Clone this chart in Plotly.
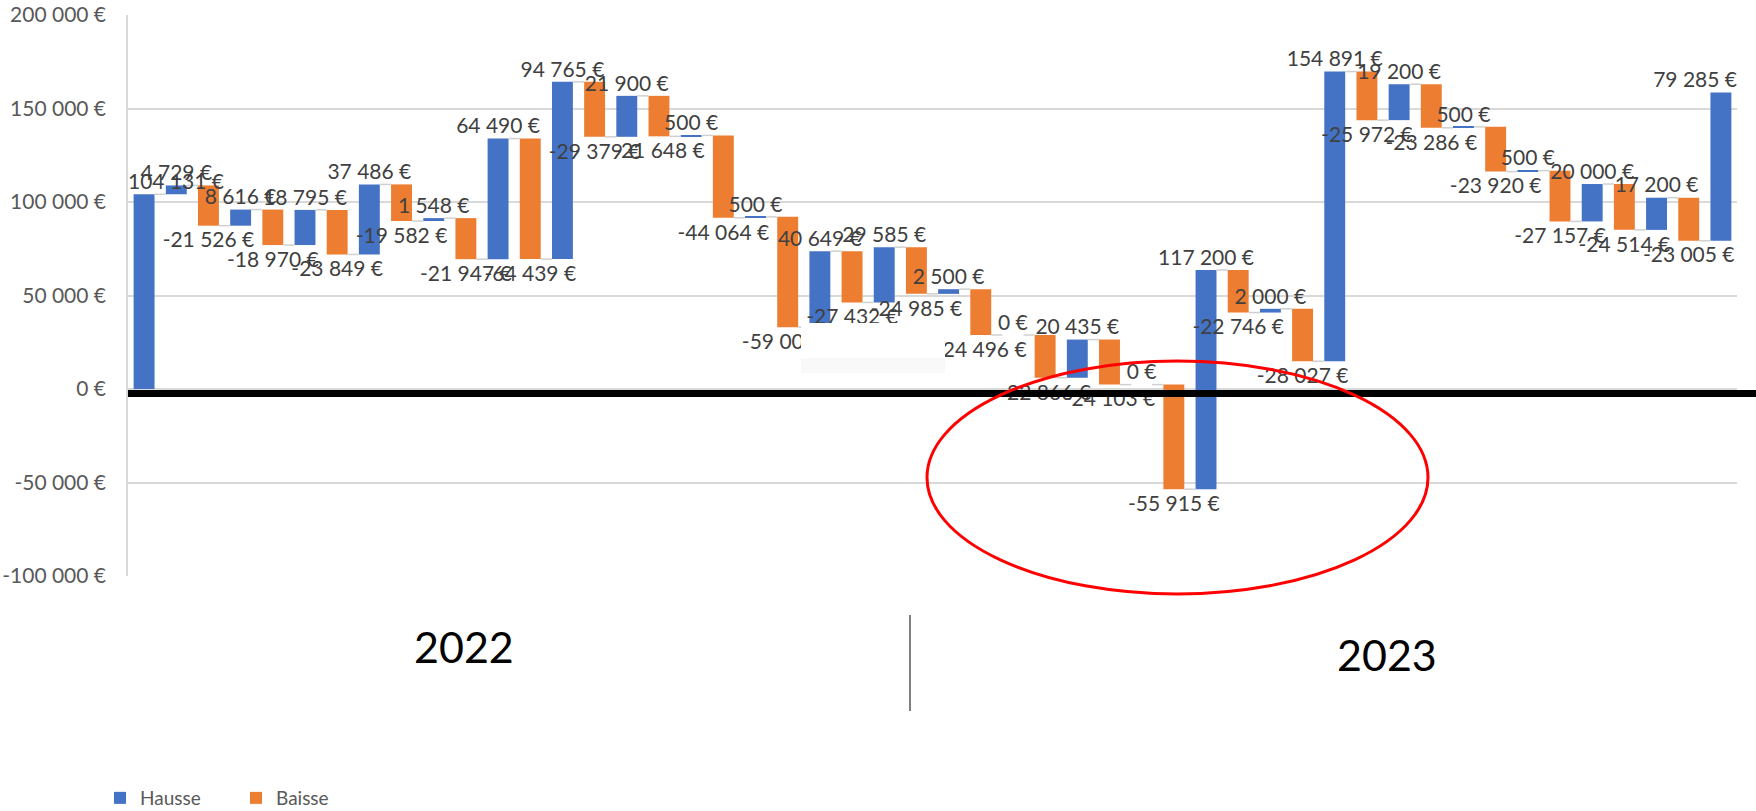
import numpy as np
import plotly.graph_objects as go

# ---------------- data ----------------
steps = list(range(1, 51))
values = [104131, 4729, -21526, 8616, -18970, 18795, -23849, 37486, -19582, 1548,
          -21947, 64490, -64439, 94765, -29379, 21900, -21648, 500, -44064, 500,
          -59000, 40649, -27432, 29585, -24985, 2500, -24496, 0, -22866, 20435,
          -24103, 0, -55915, 117200, -22746, 2000, -28027, 154891, -25972, 19200,
          -23286, 500, -23920, 500, -27157, 20000, -24514, 17200, -23005, 79285]
series_names = ["Hausse", "Baisse"]
y_tickvals = [-100000, -50000, 0, 50000, 100000, 150000, 200000]
y_ticktext = ["-100 000 €", "-50 000 €", "0 €", "50 000 €", "100 000 €", "150 000 €", "200 000 €"]
year_labels = ["2022", "2023"]

# ---------------- layout constants (pixels) ----------------
W, H = 1756, 811
L, R, T, B = 128, 19, 15, 235
PW, PH = W - L - R, H - T - B
FONT = "Lato, 'Open Sans', sans-serif"
BLUE, ORANGE = "#4472C4", "#ED7D31"
Y_MIN, Y_MAX = -100000, 200000


def px(x):
    return (x - L) / PW


def py(y):
    return (H - B - y) / PH


def fmt(v):
    return f"{int(v):,}".replace(",", " ") + " €"


idx = np.arange(len(values))
vals = np.array(values)
ends = np.cumsum(vals)
starts = ends - vals
inc = vals >= 0
BW = 0.65
x_lo, x_hi = -0.5, len(values) - 0.5
neg_gap = 6 * (Y_MAX - Y_MIN) / PH   # extra 6 px gap under decreasing bars

fig = go.Figure()
fig.add_bar(x=idx[inc], y=vals[inc], base=starts[inc], name=series_names[0],
            marker=dict(color=BLUE, line=dict(width=0)), width=BW, hoverinfo="skip")
fig.add_bar(x=idx[~inc], y=vals[~inc], base=starts[~inc], name=series_names[1],
            marker=dict(color=ORANGE, line=dict(width=0)), width=BW, hoverinfo="skip")

# connectors between consecutive bars
cx, cy = [], []
for i in range(len(vals) - 1):
    cx += [i + BW / 2, i + 1 - BW / 2, None]
    cy += [float(ends[i]), float(ends[i]), None]
fig.add_scatter(x=cx, y=cy, mode="lines", line=dict(color="#D0D0D0", width=1.5),
                showlegend=False, hoverinfo="skip")

# data labels (kept inside the plot width like the original chart)
lx, ly, lt, lp = [], [], [], []
for i, (v, e) in enumerate(zip(vals, ends)):
    vert = "top" if v >= 0 else "bottom"
    if i == 0:
        lx.append(x_lo); lp.append(vert + " right")
    elif i == len(vals) - 1:
        lx.append(x_hi); lp.append(vert + " left")
    else:
        lx.append(i); lp.append(vert + " center")
    ly.append(float(e) if v >= 0 else float(e) - neg_gap)
    lt.append(fmt(v))
fig.add_scatter(x=lx, y=ly, text=lt, mode="text", textposition=lp,
                textfont=dict(family=FONT, size=21, color="#404040"),
                showlegend=False, hoverinfo="skip", cliponaxis=False)

annotations = [
    dict(x=px(463.6), y=py(646), xref="paper", yref="paper", text=year_labels[0],
         showarrow=False, xanchor="center", yanchor="middle",
         font=dict(family=FONT, size=43, color="black")),
    dict(x=px(1387), y=py(654), xref="paper", yref="paper", text=year_labels[1],
         showarrow=False, xanchor="center", yanchor="middle",
         font=dict(family=FONT, size=43, color="black")),
]

shapes = [
    # white patch hiding part of the labels
    dict(type="rect", xref="paper", yref="paper", x0=px(801), x1=px(945), y0=py(323), y1=py(358),
         fillcolor="white", line=dict(width=0), layer="above"),
    dict(type="rect", xref="paper", yref="paper", x0=px(801), x1=px(945), y0=py(358), y1=py(373),
         fillcolor="#F9F9F9", line=dict(width=0), layer="above"),
    # thick black zero line
    dict(type="line", xref="paper", yref="paper", x0=px(128), x1=px(1756), y0=py(393.5), y1=py(393.5),
         line=dict(color="black", width=7), layer="above"),
    # red ellipse
    dict(type="circle", xref="paper", yref="paper", x0=px(927), x1=px(1428), y0=py(594), y1=py(361),
         line=dict(color="#FF0000", width=3), layer="above"),
    # year divider
    dict(type="line", xref="paper", yref="paper", x0=px(910), x1=px(910), y0=py(615), y1=py(711),
         line=dict(color="black", width=1), layer="above"),
]

fig.update_layout(
    width=W, height=H,
    margin=dict(l=L, r=R, t=T, b=B, pad=0, autoexpand=False),
    paper_bgcolor="white", plot_bgcolor="white",
    barmode="overlay",
    font=dict(family=FONT, color="#595959"),
    showlegend=True,
    legend=dict(orientation="h", x=px(100), y=py(798), xanchor="left", yanchor="middle",
                font=dict(family=FONT, size=19, color="#595959"),
                bgcolor="rgba(0,0,0,0)", entrywidth=91, entrywidthmode="pixels"),
    annotations=annotations,
    shapes=shapes,
)
fig.update_xaxes(range=[x_lo, x_hi], showticklabels=False, showgrid=False,
                 zeroline=False, showline=False, fixedrange=True)
fig.update_yaxes(range=[Y_MIN, Y_MAX], tickvals=y_tickvals, ticktext=y_ticktext,
                 showgrid=True, gridcolor="#D9D9D9", gridwidth=1.5, zeroline=False,
                 showline=True, linecolor="#D9D9D9", linewidth=1.5, ticks="",
                 ticklabelstandoff=16, tickfont=dict(family=FONT, size=21, color="#595959"),
                 fixedrange=True)

fig.write_html("out.html", config={"displayModeBar": False},
               post_script="document.body.style.margin='0px';document.body.style.overflow='hidden';")
